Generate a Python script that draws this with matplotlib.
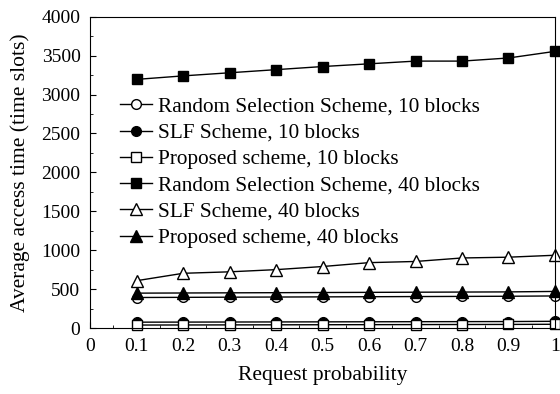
import matplotlib
matplotlib.use("Agg")
import matplotlib.pyplot as plt
from matplotlib.ticker import MultipleLocator, FuncFormatter

plt.rcParams['font.family'] = ['Liberation Serif', 'DejaVu Serif']

# Datos
prob = [0.1, 0.2, 0.3, 0.4, 0.5, 0.6, 0.7, 0.8, 0.9, 1.0]
random10 = [392, 394, 396, 398, 400, 402, 404, 406, 408, 412]
slf10 = [75, 76, 77, 78, 79, 80, 81, 82, 83, 86]
prop10 = [38, 39, 40, 41, 42, 43, 44, 45, 46, 48]
random40 = [3195, 3240, 3280, 3320, 3360, 3395, 3430, 3430, 3470, 3555]
slf40 = [608, 703, 722, 750, 790, 840, 855, 900, 910, 935]
prop40 = [448, 450, 452, 454, 456, 458, 460, 462, 464, 470]

etiquetas = ["Random Selection Scheme, 10 blocks",
             "SLF Scheme, 10 blocks",
             "Proposed scheme, 10 blocks",
             "Random Selection Scheme, 40 blocks",
             "SLF Scheme, 40 blocks",
             "Proposed scheme, 40 blocks"]

fig = plt.figure(figsize=(5.6, 3.94), dpi=100)
ax = fig.add_axes([0.161, 0.1675, 0.83, 0.79])

ms = 7
ax.plot(prob, random10, color='k', lw=1, marker='o', mfc='white', mec='k', ms=ms, label=etiquetas[0])
ax.plot(prob, slf10, color='k', lw=1, marker='o', mfc='k', mec='k', ms=ms, label=etiquetas[1])
ax.plot(prob, prop10, color='k', lw=1, marker='s', mfc='white', mec='k', ms=ms, label=etiquetas[2])
ax.plot(prob, random40, color='k', lw=1, marker='s', mfc='k', mec='k', ms=ms, label=etiquetas[3])
ax.plot(prob, slf40, color='k', lw=1, marker='^', mfc='white', mec='k', ms=ms + 1, label=etiquetas[4])
ax.plot(prob, prop40, color='k', lw=1, marker='^', mfc='k', mec='k', ms=ms + 1, label=etiquetas[5])

ax.set_xlim(0, 1)
ax.set_ylim(0, 4000)
ax.xaxis.set_major_locator(MultipleLocator(0.1))
ax.xaxis.set_minor_locator(MultipleLocator(0.05))
ax.yaxis.set_major_locator(MultipleLocator(500))
ax.yaxis.set_minor_locator(MultipleLocator(250))
ax.xaxis.set_major_formatter(FuncFormatter(lambda v, p: '%g' % round(v, 2)))
ax.tick_params(which='both', direction='in', labelsize=14)
ax.tick_params(which='major', length=4, pad=7)
ax.tick_params(which='minor', length=2.5)
for linea in ax.lines:
    linea.set_clip_on(False)

ax.set_xlabel("Request probability", fontsize=15.5, labelpad=8)
ax.set_ylabel("Average access time (time slots)", fontsize=15.5, labelpad=8)

ax.legend(loc='center left', bbox_to_anchor=(0.064, 0.5), frameon=False, fontsize=15.3,
          handlelength=1.5, handletextpad=0.3, labelspacing=0.3, borderpad=0,
          borderaxespad=0)

fig.savefig("out.png", dpi=100)
